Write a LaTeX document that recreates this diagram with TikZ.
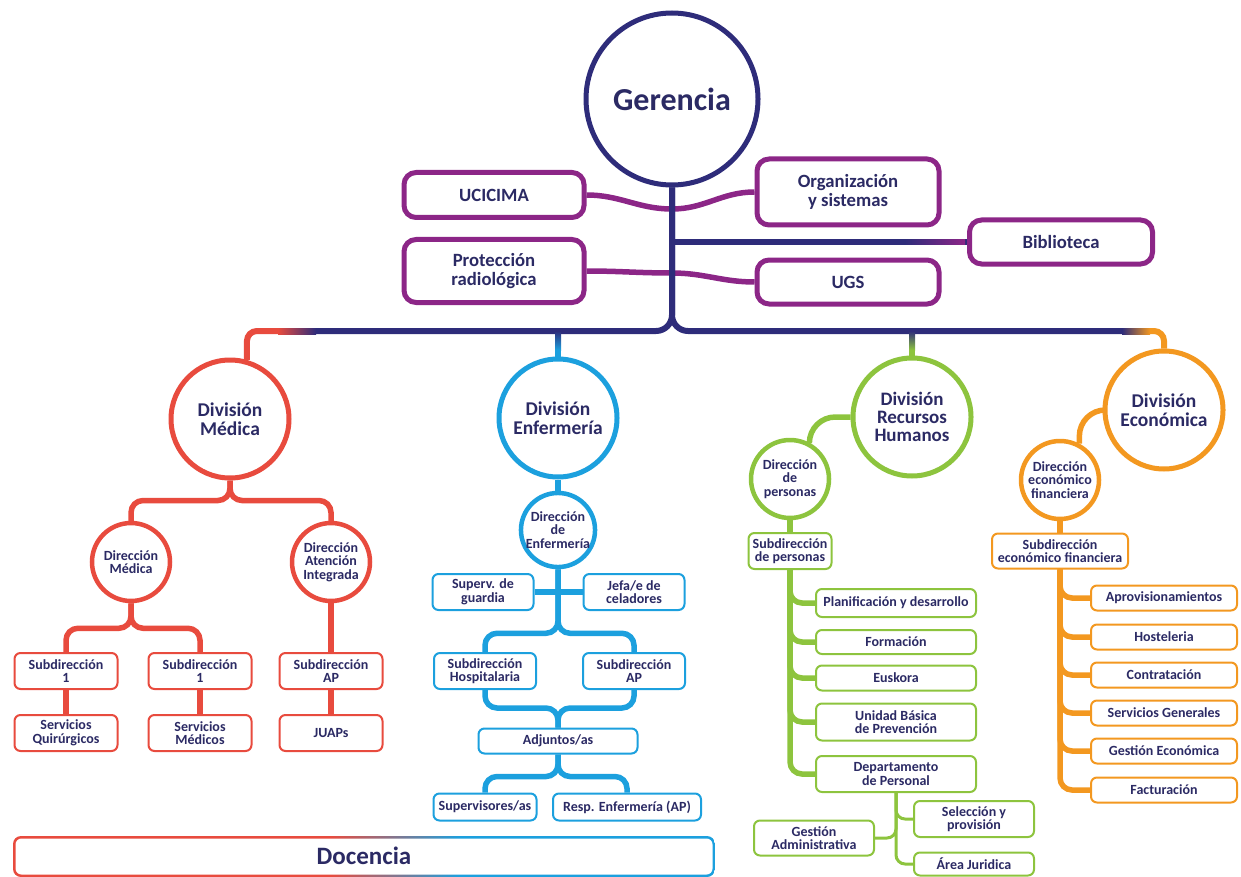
\documentclass[tikz,border=0pt]{standalone}
\usepackage{fontspec}
\setmainfont{Carlito}
\definecolor{ink}{RGB}{43,42,100}
\definecolor{navy}{RGB}{46,44,122}
\definecolor{plum}{RGB}{140,38,135}
\definecolor{medred}{RGB}{232,75,62}
\definecolor{enfblue}{RGB}{28,160,222}
\definecolor{rhgreen}{RGB}{141,196,62}
\definecolor{ecoorange}{RGB}{243,152,32}
\newcommand\fger{\fontsize{32}{34}\selectfont\bfseries}
\newcommand\fdiv{\fontsize{19.5}{19.5}\selectfont\bfseries}
\newcommand\fmid{\fontsize{18.7}{19.5}\selectfont\bfseries}
\newcommand\fsmall{\fontsize{14}{13.5}\selectfont\bfseries}
\newcommand\fdoc{\fontsize{25}{27}\selectfont\bfseries}
\tikzset{
  gercirc/.style={circle,draw=navy,line width=5pt,fill=white,minimum size=172pt,inner sep=0pt,text=ink,font=\fger},
  divcirc/.style={circle,draw=#1,line width=5pt,fill=white,minimum size=118pt,inner sep=0pt,text=ink,align=center,font=\fdiv},
  dircirc/.style={circle,draw=#1,line width=4.5pt,fill=white,minimum size=78pt,inner sep=0pt,text=ink,align=center,font=\fsmall},
  pbox/.style={draw=plum,line width=5pt,rounded corners=12pt,fill=white,minimum width=180pt,inner sep=0pt,text=ink,align=center,font=\fmid},
  sbox/.style={draw=#1,line width=2pt,rounded corners=6pt,fill=white,inner sep=0pt,text=ink,align=center,font=\fsmall},
  rbox/.style={sbox=medred,minimum width=103pt,minimum height=36pt},
  bbox/.style={sbox=enfblue,minimum width=102pt,minimum height=36pt},
  gbox/.style={sbox=rhgreen,minimum width=160pt},
  obox/.style={sbox=ecoorange,minimum width=146pt,minimum height=25pt},
  link/.style={draw=#1,line width=5.5pt,rounded corners=12pt},
}
\begin{document}
\begin{tikzpicture}[x=1pt,y=-1pt]
\useasboundingbox (0,0) rectangle (1241,877);
% gerencia and staff units
\node[gercirc] (ger) at (672,99) {Gerencia};
\node[pbox,minimum height=45pt] (ucic) at (494,195) {UCICIMA};
\node[pbox,minimum height=63pt] (prot) at (494,271) {Protección\\radiológica};
\node[pbox,minimum width=182pt,minimum height=66pt] (org) at (848,192) {Organización\\y sistemas};
\node[pbox,minimum width=183pt,minimum height=44pt] (bib) at (1061,242) {Biblioteca};
\node[pbox,minimum width=182pt,minimum height=44pt] (ugs) at (848,282) {UGS};
\coordinate (j1) at (672,209);
\coordinate (j2) at (672,273);
\draw[link=plum] (ucic.east) to[out=0,in=180] (j1);
\draw[link=plum] (org.west) to[out=180,in=0] (j1);
\draw[link=plum] (prot.east) to[out=0,in=180] (j2);
\draw[link=plum] (ugs.west) to[out=180,in=0] (j2);
\draw[link=navy] (ger.south |- bib.west) -- (bib.west);
\shade[left color=navy,right color=plum] (905,239.25) rectangle (965,244.75);
% main bus
\coordinate (bl) at (278,331);
\coordinate (bm) at (316,331);
\coordinate (br) at (1122,331);
\coordinate (bo) at (1150,331);
\draw[link=navy,line width=6pt,rounded corners=16pt] (ger.south) |- (bm);
\draw[link=navy,line width=6pt,rounded corners=16pt] (ger.south) |- (br);
% divisions
\node[divcirc=medred] (dmed) at (230,419) {División\\Médica};
\node[divcirc=enfblue] (denf) at (558,418) {División\\Enfermería};
\node[divcirc=rhgreen,font=\fontsize{19}{18}\selectfont\bfseries] (drh) at (912,417) {División\\Recursos\\Humanos};
\node[divcirc=ecoorange] (deco) at (1164,410) {División\\Económica};
\draw[link=medred,line width=6pt,rounded corners=10pt] (bl) -| (dmed.74);
\shade[left color=medred,right color=navy] (278,328) rectangle (316,334);
\draw[link=ecoorange,line width=6pt,rounded corners=10pt] (bo) -| (deco.north);
\shade[left color=navy,right color=ecoorange] (1122,328) rectangle (1150,334);
\draw[link=enfblue,line width=6pt] (denf.north |- bm) -- (denf.north);
\shade[top color=navy,bottom color=enfblue] (555,331) rectangle (561,350);
\draw[link=rhgreen,line width=6pt] (drh.north |- bm) -- (drh.north);
\shade[top color=navy,bottom color=rhgreen] (909,331) rectangle (915,350);
% division medica
\node[dircirc=medred] (dirm) at (131,562) {Dirección\\Médica};
\node[dircirc=medred] (dai) at (331,562) {Dirección\\Atención\\Integrada};
\node[rbox] (sub1) at (66,671) {Subdirección\\1};
\node[rbox] (sub2) at (200,671) {Subdirección\\1};
\node[rbox] (subap) at (331,671) {Subdirección\\AP};
\node[rbox] (squir) at (66,733) {Servicios\\Quirúrgicos};
\node[rbox] (smed) at (200,733) {Servicios\\Médicos};
\node[rbox] (juap) at (331,733) {JUAPs};
\draw[link=medred] (dmed.south) -- ++(0,20) -| (dirm.north);
\draw[link=medred] (dmed.south) -- ++(0,20) -| (dai.north);
\draw[link=medred] (dirm.south) -- ++(0,25) -| (sub1.north);
\draw[link=medred] (dirm.south) -- ++(0,25) -| (sub2.north);
\draw[link=medred] (dai) -- (subap);
\draw[link=medred] (sub1) -- (squir);
\draw[link=medred] (sub2) -- (smed);
\draw[link=medred] (subap) -- (juap);
% division enfermeria
\node[dircirc=enfblue,minimum size=74pt] (denr) at (558,530) {Dirección\\de\\Enfermería};
\node[bbox,minimum width=101pt] (sguar) at (483,592) {Superv. de\\guardia};
\node[bbox,minimum width=101pt] (jcel) at (634,592) {Jefa/e de\\celadores};
\node[bbox] (shosp) at (485,671) {Subdirección\\Hospitalaria};
\node[bbox] (sapb) at (634,671) {Subdirección\\AP};
\node[sbox=enfblue,minimum width=159pt,minimum height=25pt] (adj) at (558,741) {Adjuntos/as};
\node[sbox=enfblue,minimum width=103pt,minimum height=27pt] (supv) at (485,807) {Supervisores/as};
\node[sbox=enfblue,minimum width=148pt,minimum height=27pt] (resp) at (627,807) {Resp. Enfermería (AP)};
\draw[link=enfblue] (denf) -- (denr);
\draw[link=enfblue] (sguar) -- (jcel);
\draw[link=enfblue] (denr.south) -- ++(0,64) -| (shosp.north);
\draw[link=enfblue] (denr.south) -- ++(0,64) -| (sapb.north);
\draw[link=enfblue] (shosp.south) -- ++(0,18) -| (adj.north);
\draw[link=enfblue] (sapb.south) -- ++(0,18) -| (adj.north);
\draw[link=enfblue] (adj.south) -- ++(0,22) -| (supv.north);
\draw[link=enfblue] (adj.south) -- ++(0,22) -| (resp.north);
% division recursos humanos
\node[dircirc=rhgreen] (dper) at (790,479) {Dirección\\de\\personas};
\node[sbox=rhgreen,minimum width=83pt,minimum height=36pt] (subp) at (790,551) {Subdirección\\de personas};
\node[gbox,minimum height=28pt] (plan) at (896,603) {Planificación y desarrollo};
\node[gbox,minimum height=24pt] (form) at (896,642) {Formación};
\node[gbox,minimum height=25pt] (eusk) at (896,678) {Euskora};
\node[gbox,minimum height=37pt] (ubp) at (896,722) {Unidad Básica\\de Prevención};
\node[gbox,minimum height=36pt] (dpto) at (896,774) {Departamento\\de Personal};
\node[sbox=rhgreen,minimum width=120pt,minimum height=36pt] (selp) at (974,819) {Selección y\\provisión};
\node[sbox=rhgreen,minimum width=120pt,minimum height=35pt] (gadm) at (814,838) {Gestión\\Administrativa};
\node[sbox=rhgreen,minimum width=120pt,minimum height=23pt] (ajur) at (974,864) {Área Juridica};
\draw[link=rhgreen,rounded corners=26pt] (dper.62) |- (drh.west);
\draw[link=rhgreen] (dper) -- (subp);
\foreach \b in {plan,form,eusk,ubp,dpto}
  \draw[link=rhgreen] (subp.south) |- (\b.west);
\foreach \b in {selp,ajur}
  \draw[link=rhgreen,line width=3pt,rounded corners=9pt] (dpto.south) |- (\b.west);
\draw[link=rhgreen,line width=3pt,rounded corners=9pt] (dpto.south) |- (gadm.east);
% division economica
\node[dircirc=ecoorange] (dfin) at (1060,480) {Dirección\\económico\\financiera};
\node[sbox=ecoorange,minimum width=136pt,minimum height=35pt] (subf) at (1060,551) {Subdirección\\económico financiera};
\node[obox] (aprov) at (1164,598) {Aprovisionamientos};
\node[obox] (host) at (1164,637) {Hosteleria};
\node[obox] (contr) at (1164,675) {Contratación};
\node[obox] (sgen) at (1164,713) {Servicios Generales};
\node[obox] (gecon) at (1164,751) {Gestión Económica};
\node[obox] (fact) at (1164,790) {Facturación};
\draw[link=ecoorange,rounded corners=26pt] (dfin.62) |- (deco.west);
\draw[link=ecoorange] (dfin) -- (subf);
\foreach \b in {aprov,host,contr,sgen,gecon,fact}
  \draw[link=ecoorange] (subf.south) |- (\b.west);
% docencia
\begin{scope}
\clip[rounded corners=8pt] (13,836) rectangle (715,877);
\fill[medred] (13,836) rectangle (330,877);
\shade[left color=medred,right color=enfblue] (330,836) rectangle (460,877);
\fill[enfblue] (460,836) rectangle (715,877);
\end{scope}
\fill[white,rounded corners=6pt] (15.5,838.5) rectangle (712.5,874.5);
\node[text=ink,font=\fdoc] (doc) at (364,856) {Docencia};
\end{tikzpicture}
\end{document}
